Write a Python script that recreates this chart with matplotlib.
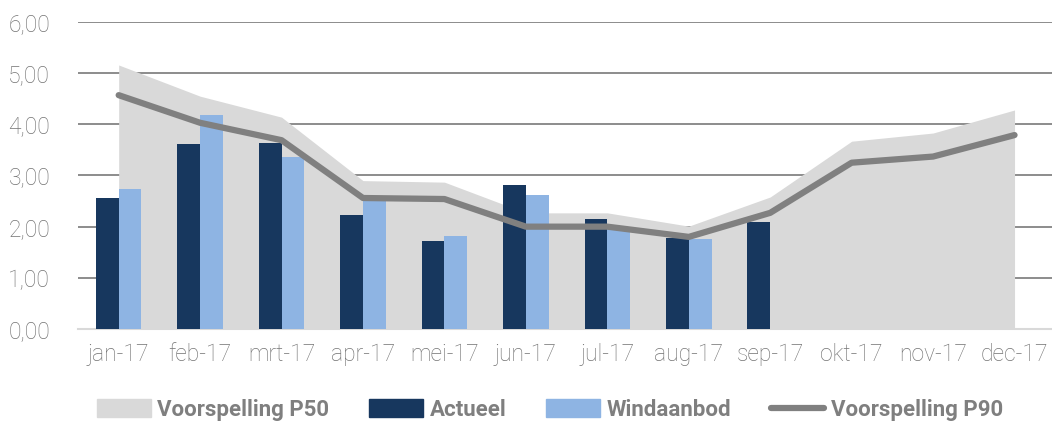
import numpy as np
from matplotlib import pyplot as plt
from matplotlib.patches import Patch
from matplotlib.lines import Line2D

# Data
maanden = ['jan-17', 'feb-17', 'mrt-17', 'apr-17', 'mei-17', 'jun-17',
           'jul-17', 'aug-17', 'sep-17', 'okt-17', 'nov-17', 'dec-17']
p50 = [5.16, 4.55, 4.14, 2.90, 2.87, 2.27, 2.27, 2.01, 2.58, 3.67, 3.83, 4.28]
p90 = [4.57, 4.03, 3.69, 2.56, 2.54, 2.00, 2.00, 1.80, 2.27, 3.25, 3.37, 3.79]
actueel = [2.56, 3.61, 3.63, 2.23, 1.72, 2.81, 2.14, 1.78, 2.09]
windaanbod = [2.73, 4.18, 3.36, 2.52, 1.82, 2.62, 1.95, 1.76]

c_area = '#d9d9d9'
c_dark = '#17375e'
c_light = '#8eb4e3'
c_line = '#808080'
c_text = '#7f7f7f'

plt.rcParams['font.family'] = ['Roboto', 'DejaVu Sans']

fig = plt.figure(figsize=(10.52, 4.26), dpi=100)
ax = fig.add_axes([0.0741, 0.2277, 0.929, 0.7207])

x = np.arange(len(maanden))
bw = 0.28

ax.fill_between(x, 0, p50, color=c_area, linewidth=0, zorder=2)
ax.bar(np.arange(len(actueel)) - bw / 2, actueel, width=bw, color=c_dark, zorder=3)
ax.bar(np.arange(len(windaanbod)) + bw / 2, windaanbod, width=bw, color=c_light, zorder=3)
ax.plot(x, p90, color=c_line, linewidth=4.5, solid_capstyle='round', zorder=4)

ax.set_xlim(-0.5, 11.5)
ax.set_ylim(0, 6)
ax.set_yticks(np.arange(0, 7, 1))
ax.set_yticklabels([f'{v:.2f}'.replace('.', ',') for v in range(7)])
ax.set_xticks(x)
ax.set_xticklabels(maanden)
ax.grid(axis='y', color='#8c8c8c', linewidth=1.4, zorder=1)
ax.set_axisbelow(True)
for s in ['top', 'right', 'left']:
    ax.spines[s].set_visible(False)
ax.spines['bottom'].set_color('#d9d9d9')
ax.spines['bottom'].set_linewidth(1.5)
ax.tick_params(axis='both', length=0, labelsize=16.5, labelcolor='#737373')
ax.tick_params(axis='y', pad=20)
ax.tick_params(axis='x', pad=10)
for lab in ax.get_xticklabels() + ax.get_yticklabels():
    lab.set_fontweight('light')

handles = [Patch(color=c_area), Patch(color=c_dark), Patch(color=c_light),
           Line2D([0], [0], color=c_line, linewidth=4.5, solid_capstyle='round')]
labels = ['Voorspelling P50', 'Actueel', 'Windaanbod', 'Voorspelling P90']
leg = fig.legend(handles, labels, loc='center', bbox_to_anchor=(0.523, 0.038),
                 ncol=4, frameon=False, handlelength=2.4, handleheight=0.85,
                 handletextpad=0.3, columnspacing=1.8,
                 prop={'family': ['Liberation Sans Narrow', 'Roboto'],
                       'weight': 'bold', 'size': 16})
for t in leg.get_texts():
    t.set_color(c_text)

fig.savefig('out.png', dpi=100)
